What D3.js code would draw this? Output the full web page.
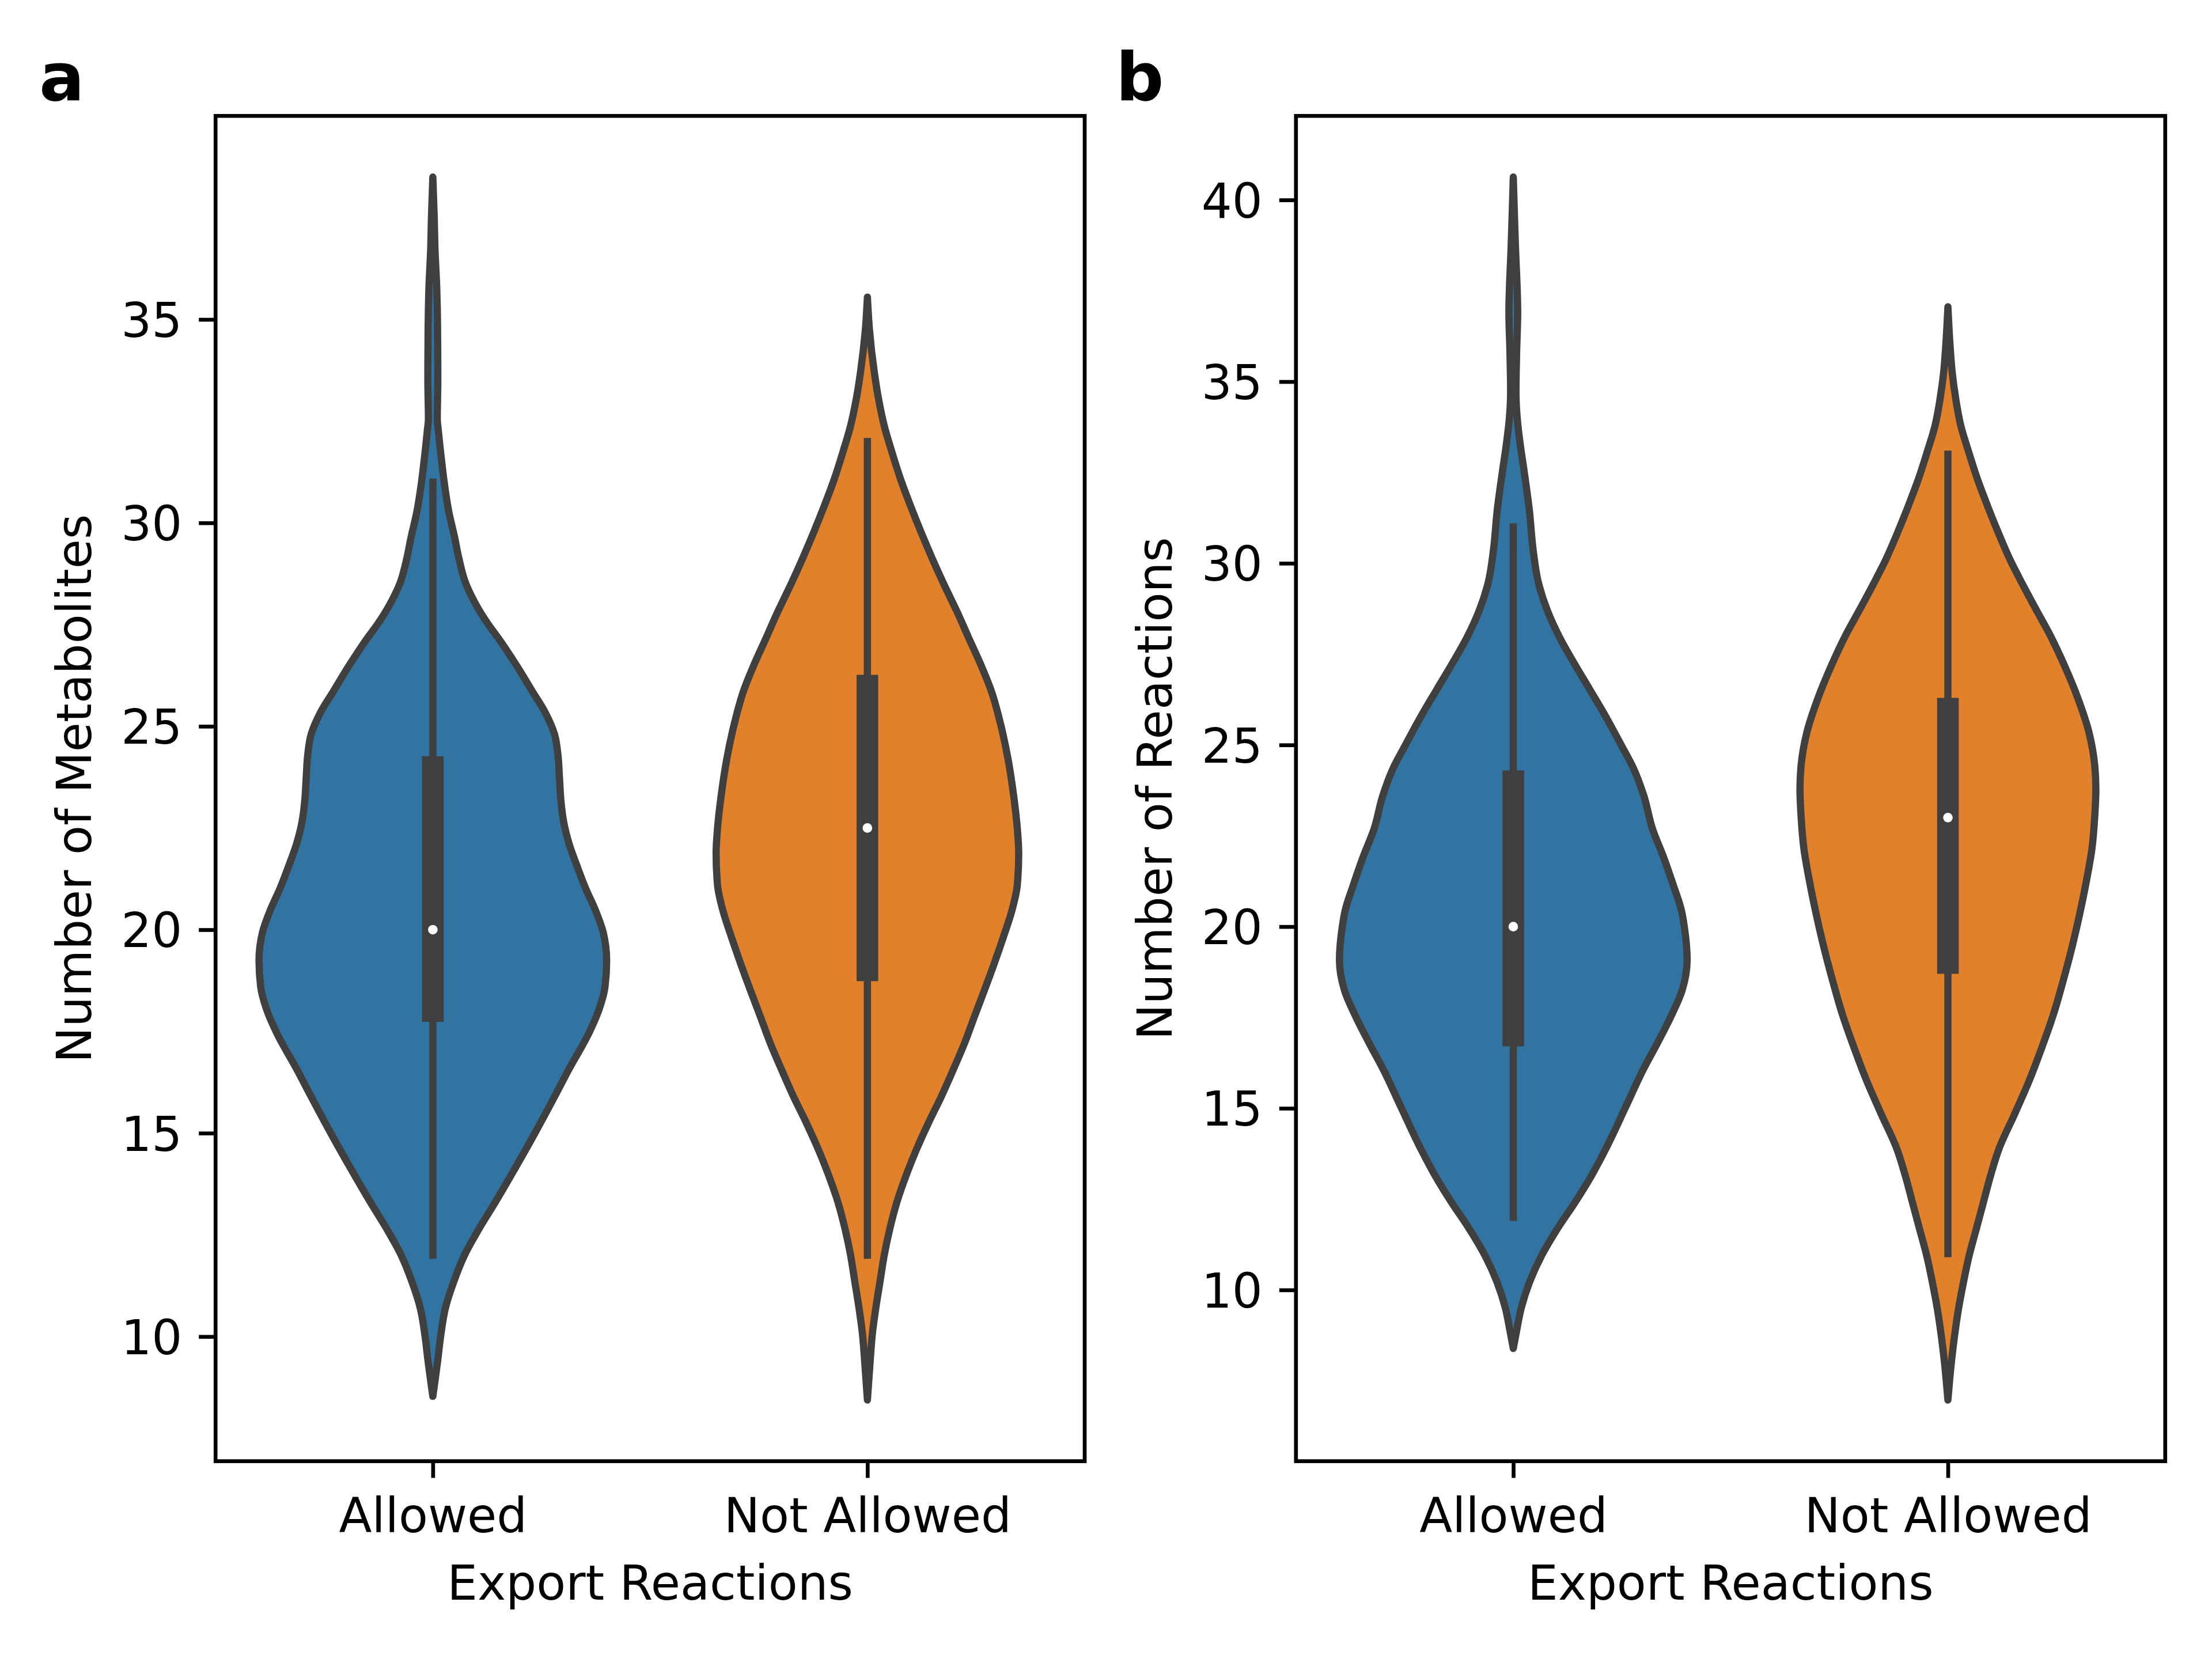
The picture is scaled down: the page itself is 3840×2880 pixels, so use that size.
<!DOCTYPE html>
<html>
<head>
<meta charset="utf-8">
<script src="https://cdn.jsdelivr.net/npm/d3@7"></script>
<style>
body { margin: 0; background: #fff; }
svg text { font-family: "DejaVu Sans", sans-serif; fill: #000; }
</style>
</head>
<body>
<script>
// ---- values ----
var categories = ["Allowed", "Not Allowed"];
var panelLetters = ["a", "b"];
var yLabels = ["Number of Metabolites", "Number of Reactions"];
var xLabel = "Export Reactions";
var yTicksA = [10, 15, 20, 25, 30, 35];
var yTicksB = [10, 15, 20, 25, 30, 35, 40];
var colors = ["#3274a1", "#e1812c"];
var gray = "#3f3f3f";

// violin outlines: [value, density]
var metAllowed = [[38.5,0],[37.5,2],[36.76,3],[35.8,5.5],[34.83,6.7],[33.53,7.1],[32.56,6.3],[32.24,8],
  [31.59,12],[30.95,16.5],[30.29,22.5],[29.64,31],[29.13,37],[28.55,46],[28.0,61],[27.5,79],[27.17,93],
  [26.52,118],[25.87,141],[25.33,160],[24.8,173],[24.26,178],[23.72,180],[23.17,182],[22.64,186],
  [22.09,194],[21.56,205],[21.02,217],[20.48,231],[19.94,242],[19.24,247],[18.59,244.6],[18.05,236.4],
  [17.45,221.5],[16.56,193],[15.9,173],[15.0,145],[13.96,111],[13.31,89],[12.66,66],[12.0,45],[11.36,30],
  [10.71,18],[10.0,11],[9.42,7],[8.9,3],[8.53,0]];
var metNotAllowed = [[35.55,0],[34.73,3],[33.68,10],[33.03,16],[32.38,24],[31.73,35],[31.08,47],[30.43,61],
  [29.78,76],[29.13,92],[28.48,109],[27.83,127],[27.17,144],[26.52,161],[25.87,176],[25.0,190],[24.18,200],
  [23.27,208],[22.49,213],[21.88,215],[21.1,213],[20.45,205],[19.81,193],[19.16,180],[18.5,166],[17.86,152],
  [17.21,138],[16.56,122],[15.9,105],[15.26,87],[14.61,70],[13.96,55],[13.31,42],[12.66,32],[12.01,24],
  [11.36,18],[10.71,12],[10.06,7],[9.42,4],[8.44,0]];
var rxnAllowed = [[40.63,0],[39.34,2],[38.7,3.1],[36.9,6.2],[35.8,4.7],[34.7,3.8],[34.0,5.5],[33.27,9.8],
  [32.54,15.2],[31.45,22.7],[30.36,28],[29.5,35],[28.7,48],[27.97,65],[27.24,86],[26.52,108],[25.79,130],
  [25.0,152],[24.33,170],[23.6,184],[22.7,196],[21.9,212],[21.17,225],[20.44,237],[20.0,241],[19.08,245],
  [18.25,238],[17.52,222],[16.79,203],[16.06,183],[15.02,158],[13.87,130],[13.14,110],[12.41,87],[11.68,62],
  [10.95,40],[10.22,23],[9.49,11],[8.91,5],[8.39,0]];
var rxnNotAllowed = [[37.06,0],[36.0,3],[35.26,6],[34.53,11],[33.8,18],[33.08,29],[32.35,41],[31.62,55],
  [30.89,70],[30.0,90],[29.43,105],[28.7,125],[28.06,143],[27.15,165],[26.24,184],[25.33,199],[24.42,207],
  [23.79,208.5],[23.06,207],[22.15,203],[21.24,195],[20.33,185.5],[19.42,174.7],[18.51,162.4],[17.6,149],
  [16.69,132.7],[15.78,115],[14.87,94.7],[13.87,71.7],[13.14,60],[12.41,50],[11.68,40],[10.95,30],
  [10.22,22],[9.49,15],[8.76,9.5],[8.03,5],[6.97,0]];

// inner box stats per category
var metWhiskerLow = [12, 12];
var metQ1 = [18, 19];
var metMedian = [20, 22.5];
var metQ3 = [24, 26];
var metWhiskerHigh = [31, 32];
var rxnWhiskerLow = [12, 11];
var rxnQ1 = [17, 19];
var rxnMedian = [20, 23];
var rxnQ3 = [24, 26];
var rxnWhiskerHigh = [31, 33];

// ---- layout ----
var W = 3840, H = 2880;
var plotTop = 201.2, plotBottom = 2536.6;
var lw = 12.5, spineW = 6.67, fontPx = 83.33;

var svg = d3.select("body").append("svg")
    .attr("width", W)
    .attr("height", H)
    .attr("viewBox", "0 0 " + W + " " + H);

function drawPanel(cfg) {
    var g = svg.append("g");
    var x = d3.scaleLinear().domain([-0.5, 1.5]).range([cfg.left, cfg.right]);

    var all = cfg.profiles[0].concat(cfg.profiles[1]);
    var ext = d3.extent(all, function (d) { return d[0]; });
    var pad = (ext[1] - ext[0]) * 0.05;
    var y = d3.scaleLinear().domain([ext[0] - pad, ext[1] + pad]).range([plotBottom, plotTop]);
    var w = d3.scaleLinear()
        .domain([0, d3.max(all, function (d) { return d[1]; })])
        .range([0, x(0.4) - x(0)]);

    cfg.profiles.forEach(function (prof, i) {
        var cx = x(i);
        var area = d3.area()
            .curve(d3.curveMonotoneY)
            .y(function (d) { return y(d[0]); })
            .x0(function (d) { return cx - w(d[1]); })
            .x1(function (d) { return cx + w(d[1]); });
        g.append("path")
            .attr("d", area(prof))
            .attr("fill", colors[i])
            .attr("stroke", gray)
            .attr("stroke-width", lw)
            .attr("stroke-linejoin", "round");

        // whisker
        g.append("line")
            .attr("x1", cx).attr("x2", cx)
            .attr("y1", y(cfg.wLo[i])).attr("y2", y(cfg.wHi[i]))
            .attr("stroke", gray).attr("stroke-width", lw)
            .attr("stroke-linecap", "square");
        // box
        g.append("line")
            .attr("x1", cx).attr("x2", cx)
            .attr("y1", y(cfg.q1[i])).attr("y2", y(cfg.q3[i]))
            .attr("stroke", gray).attr("stroke-width", lw * 3)
            .attr("stroke-linecap", "square");
        // median
        g.append("circle")
            .attr("cx", cx).attr("cy", y(cfg.med[i]))
            .attr("r", 8.3)
            .attr("fill", "#fff");
    });

    // y axis
    var ya = g.append("g")
        .attr("transform", "translate(" + cfg.left + ",0)")
        .call(d3.axisLeft(y).tickValues(cfg.ticks).tickSize(29).tickPadding(29).tickFormat(d3.format("d")));
    ya.select(".domain").remove();
    ya.selectAll(".tick line").attr("stroke", "#000").attr("stroke-width", spineW);
    ya.selectAll(".tick text").attr("font-size", fontPx).attr("dy", "0.36em")
        .attr("font-family", "DejaVu Sans").attr("fill", "#000");

    // x axis
    var xa = g.append("g")
        .attr("transform", "translate(0," + plotBottom + ")")
        .call(d3.axisBottom(x).tickValues([0, 1]).tickSize(29).tickPadding(29)
            .tickFormat(function (i) { return categories[i]; }));
    xa.select(".domain").remove();
    xa.selectAll(".tick line").attr("stroke", "#000").attr("stroke-width", spineW);
    xa.selectAll(".tick text").attr("font-size", fontPx).attr("dy", "0.78em")
        .attr("font-family", "DejaVu Sans").attr("fill", "#000");

    // frame
    g.append("rect")
        .attr("x", cfg.left).attr("y", plotTop)
        .attr("width", cfg.right - cfg.left).attr("height", plotBottom - plotTop)
        .attr("fill", "none").attr("stroke", "#000").attr("stroke-width", spineW);

    // labels
    g.append("text")
        .attr("transform", "translate(" + (cfg.left - 216) + "," + ((plotTop + plotBottom) / 2) + ") rotate(-90)")
        .attr("text-anchor", "middle")
        .attr("font-size", fontPx)
        .text(cfg.yLabel);
    g.append("text")
        .attr("x", (cfg.left + cfg.right) / 2).attr("y", 2777)
        .attr("text-anchor", "middle")
        .attr("font-size", fontPx)
        .text(xLabel);
    g.append("text")
        .attr("x", cfg.letterX).attr("y", 174)
        .attr("font-size", 116.7)
        .attr("font-weight", "bold")
        .text(cfg.letter);
}

drawPanel({
    left: 374.2, right: 1883, letterX: 68, letter: panelLetters[0],
    profiles: [metAllowed, metNotAllowed], ticks: yTicksA, yLabel: yLabels[0],
    wLo: metWhiskerLow, q1: metQ1, med: metMedian, q3: metQ3, wHi: metWhiskerHigh
});
drawPanel({
    left: 2249.8, right: 3758.8, letterX: 1937, letter: panelLetters[1],
    profiles: [rxnAllowed, rxnNotAllowed], ticks: yTicksB, yLabel: yLabels[1],
    wLo: rxnWhiskerLow, q1: rxnQ1, med: rxnMedian, q3: rxnQ3, wHi: rxnWhiskerHigh
});
</script>
</body>
</html>
